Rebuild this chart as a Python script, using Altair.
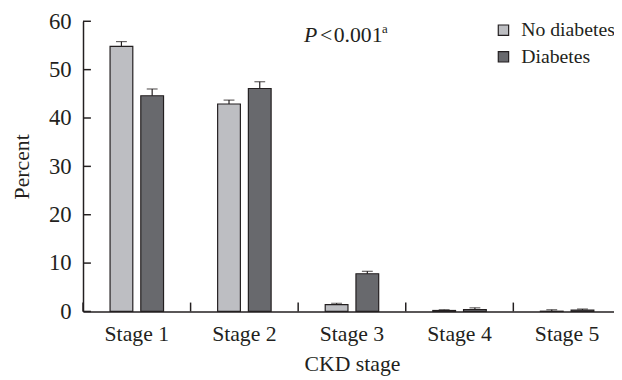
import altair as alt
import pandas as pd

stages = ["Stage 1", "Stage 2", "Stage 3", "Stage 4", "Stage 5"]
groups = ["No diabetes", "Diabetes"]
no_diabetes = [54.8, 42.9, 1.4, 0.2, 0.05]
no_diabetes_err = [1.0, 0.8, 0.3, 0.15, 0.3]
diabetes = [44.6, 46.1, 7.8, 0.4, 0.3]
diabetes_err = [1.4, 1.4, 0.5, 0.35, 0.2]
y_ticks = [0, 10, 20, 30, 40, 50, 60]

rows = []
for i, s in enumerate(stages):
    rows.append({"stage": s, "group": groups[0], "value": no_diabetes[i], "upper": no_diabetes[i] + no_diabetes_err[i]})
    rows.append({"stage": s, "group": groups[1], "value": diabetes[i], "upper": diabetes[i] + diabetes_err[i]})
df = pd.DataFrame(rows)
ticks_df = pd.DataFrame({"v": y_ticks})
stage_df = pd.DataFrame({"stage": stages})

FONT = "Liberation Serif"
INK = "#231f20"
W, H = 538, 294
FS = 22

xscale = alt.Scale(domain=stages, range=[0, 545], paddingInner=0, paddingOuter=0)
yscale = alt.Scale(domain=[0, 60], nice=False)
offscale = alt.Scale(domain=groups, paddingInner=0.26, paddingOuter=0.88)

base = alt.Chart(df)

bars = base.mark_bar(stroke=INK, strokeWidth=1.2).encode(
    x=alt.X("stage:N", scale=xscale, sort=stages,
            axis=alt.Axis(title="CKD stage", labelAngle=0, ticks=False, domainColor=INK,
                          domainWidth=1.5, labelFont=FONT, labelFontSize=FS, labelColor=INK,
                          labelPadding=12, titleFont=FONT, titleFontSize=FS, titleColor=INK,
                          titleFontWeight="normal", titlePadding=10)),
    xOffset=alt.XOffset("group:N", scale=offscale, sort=groups),
    y=alt.Y("value:Q", scale=yscale,
            axis=alt.Axis(title="Percent", values=y_ticks, ticks=False, grid=False, domainColor=INK,
                          domainWidth=1.5, labelFont=FONT, labelFontSize=23, labelColor=INK,
                          labelPadding=12, titleFont=FONT, titleFontSize=FS, titleColor=INK,
                          titleFontWeight="normal", titlePadding=15)),
    color=alt.Color("group:N", sort=groups,
                    scale=alt.Scale(domain=groups, range=["#bdbec2", "#68696d"]),
                    legend=alt.Legend(orient="none", legendX=416, legendY=-1, title=None,
                                      symbolType="square", symbolSize=110, symbolStrokeColor=INK,
                                      symbolStrokeWidth=1.2, labelFont=FONT, labelFontSize=20,
                                      labelColor=INK, rowPadding=7, labelOffset=8)),
)

err = base.mark_rule(color=INK, strokeWidth=1.2).encode(
    x=alt.X("stage:N", scale=xscale, sort=stages),
    xOffset=alt.XOffset("group:N", scale=offscale, sort=groups),
    y=alt.Y("value:Q", scale=yscale),
    y2="upper:Q",
)

caps = base.mark_tick(color=INK, orient="horizontal", size=11, thickness=1.2).encode(
    x=alt.X("stage:N", scale=xscale, sort=stages),
    xOffset=alt.XOffset("group:N", scale=offscale, sort=groups),
    y=alt.Y("upper:Q", scale=yscale),
)

yt = alt.Chart(ticks_df).mark_rule(color=INK, strokeWidth=1.5).encode(
    x=alt.value(0), x2=alt.value(8), y=alt.Y("v:Q", scale=yscale)
)

xt = alt.Chart(stage_df).mark_rule(color=INK, strokeWidth=1.5).encode(
    x=alt.X("stage:N", scale=xscale, sort=stages, bandPosition=0),
    y=alt.value(H), y2=alt.value(H - 9),
)

one = stage_df.head(1)
ann_P = alt.Chart(one).mark_text(text="P", font=FONT, fontSize=FS, fontStyle="italic",
                                 align="left", baseline="alphabetic", color=INK).encode(
    x=alt.value(224), y=alt.value(21))
ann_lt = alt.Chart(one).mark_text(text="<", font=FONT, fontSize=FS,
                                  align="left", baseline="alphabetic", color=INK).encode(
    x=alt.value(240), y=alt.value(21))
ann_num = alt.Chart(one).mark_text(text="0.001", font=FONT, fontSize=FS,
                                   align="left", baseline="alphabetic", color=INK).encode(
    x=alt.value(254), y=alt.value(21))
ann_sup = alt.Chart(one).mark_text(text="a", font=FONT, fontSize=13,
                                   align="left", baseline="alphabetic", color=INK).encode(
    x=alt.value(303), y=alt.value(12))

chart = alt.layer(bars, err, caps, yt, xt, ann_P, ann_lt, ann_num, ann_sup).properties(
    width=W, height=H,
    autosize=alt.AutoSizeParams(type="none"),
    padding={"left": 76, "top": 11, "right": 0, "bottom": 67},
).configure_view(stroke=None).configure_axis(grid=False)

chart.save("out.html", embed_options={"renderer": "svg", "actions": False})
